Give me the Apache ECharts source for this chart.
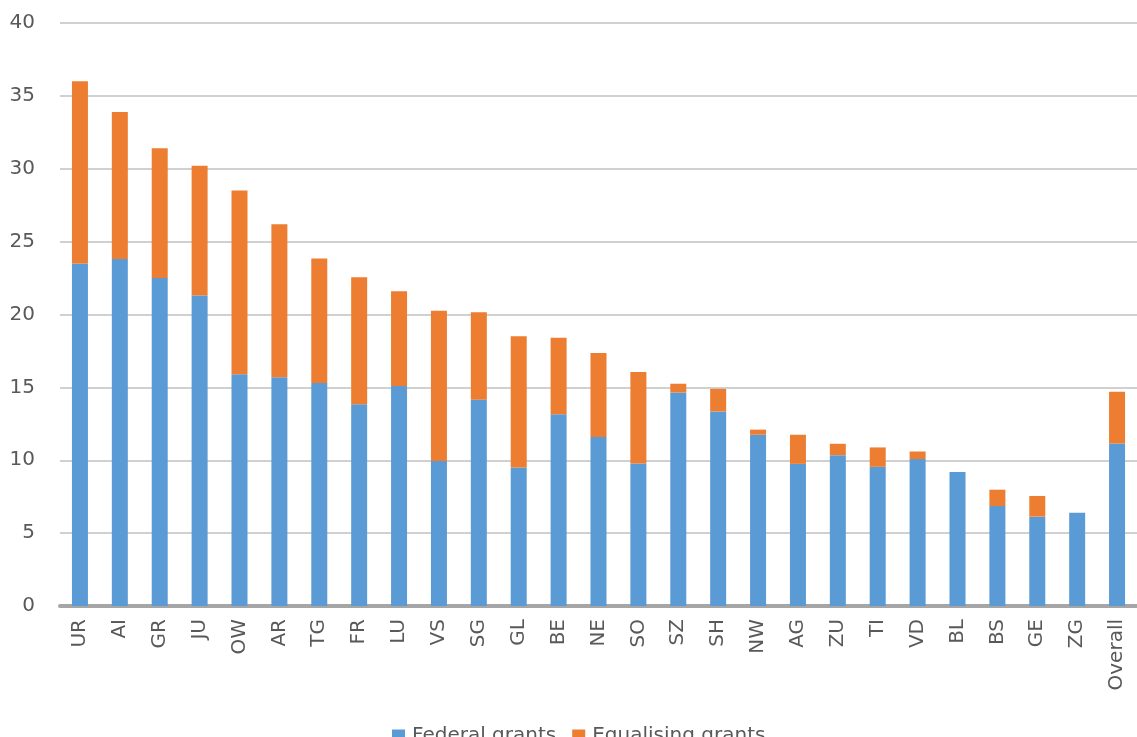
<!DOCTYPE html>
<html>
<head>
<meta charset="utf-8">
<script src="https://cdn.jsdelivr.net/npm/echarts@6/dist/echarts.min.js"></script>
<style>
  html, body { margin: 0; padding: 0; background: #fff; }
  #chart { width: 1137px; height: 737px; }
</style>
</head>
<body>
<div id="chart"></div>
<script>
// Cantons, ordered by total grants received
const cantons = ['UR','AI','GR','JU','OW','AR','TG','FR','LU','VS','SG','GL','BE','NE','SO','SZ','SH','NW','AG','ZU','TI','VD','BL','BS','GE','ZG','Overall'];

// Federal grants (lower segment)
const federalGrants = [23.5, 23.8, 22.5, 21.3, 15.9, 15.7, 15.3, 13.85, 15.1, 9.95, 14.15, 9.5, 13.15, 11.6, 9.78, 14.65, 13.35, 11.75, 9.75, 10.35, 9.55, 10.08, 9.2, 6.86, 6.13, 6.4, 11.15];

// Equalising grants (upper segment)
const equalisingGrants = [12.5, 10.1, 8.9, 8.9, 12.6, 10.5, 8.55, 8.7, 6.5, 10.3, 6.0, 9.0, 5.25, 5.75, 6.27, 0.6, 1.55, 0.35, 2.0, 0.78, 1.33, 0.52, 0, 1.12, 1.42, 0, 3.55];

const yTicks = { min: 0, max: 40, interval: 5 };

const textColor = '#595959';
const fontFamily = 'DejaVu Sans, sans-serif';

const chart = echarts.init(document.getElementById('chart'));
chart.setOption({
  animation: false,
  color: ['#5b9bd5', '#ed7d31'],
  grid: { left: 60, right: -9, top: 23, bottom: 131, containLabel: false },
  legend: {
    data: ['Federal grants', 'Equalising grants'],
    top: 721,
    left: 387,
    itemWidth: 13,
    itemHeight: 13,
    itemGap: 16,
    icon: 'rect',
    textStyle: { color: textColor, fontSize: 20, fontFamily: fontFamily, padding: [0, 0, 0, 2] }
  },
  xAxis: {
    type: 'category',
    data: cantons,
    axisLine: { lineStyle: { color: '#a6a6a6', width: 4 } },
    axisTick: { show: false },
    axisLabel: {
      rotate: 90,
      margin: 13,
      color: textColor,
      fontSize: 20,
      fontFamily: fontFamily,
      interval: 0
    }
  },
  yAxis: {
    type: 'value',
    min: yTicks.min,
    max: yTicks.max,
    interval: yTicks.interval,
    axisLine: { show: false },
    axisTick: { show: false },
    splitLine: { lineStyle: { color: '#c0c0c0', width: 1.5 } },
    axisLabel: {
      margin: 25,
      color: textColor,
      fontSize: 20,
      fontFamily: fontFamily
    }
  },
  series: [
    {
      name: 'Federal grants',
      type: 'bar',
      stack: 'grants',
      barWidth: 16,
      data: federalGrants
    },
    {
      name: 'Equalising grants',
      type: 'bar',
      stack: 'grants',
      barWidth: 16,
      data: equalisingGrants
    }
  ]
});
</script>
</body>
</html>
